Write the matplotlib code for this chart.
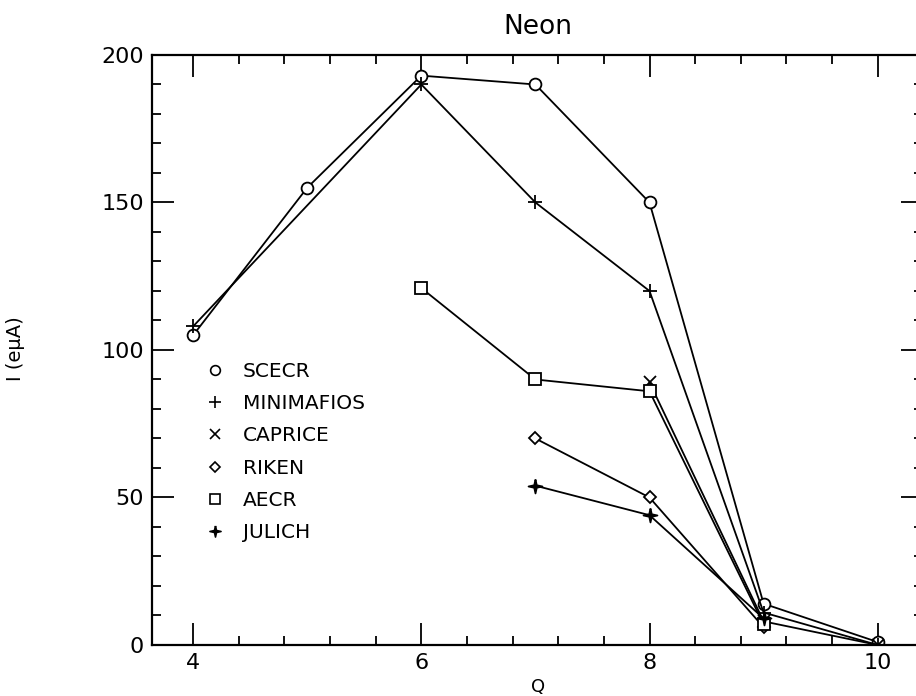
import numpy as np
import matplotlib
matplotlib.use("Agg")
import matplotlib.pyplot as plt
from matplotlib.lines import Line2D
from matplotlib.path import Path
from matplotlib.ticker import MultipleLocator

# data (Q, current in e-microA)
scecr_q = [4, 5, 6, 7, 8, 9, 10]
scecr_i = [105, 155, 193, 190, 150, 14, 1]
minimafios_q = [4, 6, 7, 8, 9, 10]
minimafios_i = [108, 190, 150, 120, 11, 0]
caprice_q = [8, 9, 10]
caprice_i = [89, 8, 0]
riken_q = [7, 8, 9]
riken_i = [70, 50, 6]
aecr_q = [6, 7, 8, 9]
aecr_i = [121, 90, 86, 7]
julich_q = [7, 8, 9]
julich_i = [54, 44, 9]

# four pointed star for JULICH
star = Path([(0, 1), (0.18, 0.18), (1, 0), (0.18, -0.18), (0, -1),
             (-0.18, -0.18), (-1, 0), (-0.18, 0.18), (0, 1)])

series = [
    ("SCECR", scecr_q, scecr_i, dict(marker="o", ms=8.5, mfc="white"), 7),
    ("MINIMAFIOS", minimafios_q, minimafios_i, dict(marker="+", ms=10), 8),
    ("CAPRICE", caprice_q, caprice_i, dict(marker="x", ms=8.5), 7),
    ("RIKEN", riken_q, riken_i, dict(marker="D", ms=6, mfc="white"), 5),
    ("AECR", aecr_q, aecr_i, dict(marker="s", ms=8, mfc="white"), 6.5),
    ("JULICH", julich_q, julich_i, dict(marker=star, ms=10, mfc="black"), 8),
]

plt.rcParams['font.family'] = ['DejaVu Sans']
fig = plt.figure(figsize=(9.16, 6.96), dpi=100)
ax = fig.add_axes([0.166, 0.0733, 0.842, 0.8477])

handles = []
for name, q, cur, st, leg_ms in series:
    ax.plot(q, cur, color="black", lw=1.3, mec="black", mew=1.3, **st)
    st = dict(st, ms=leg_ms)
    handles.append(Line2D([], [], ls="none", color="black", mec="black",
                          mew=1.2, label=name, **st))

ax.set_xlim(3.64, 10.40)
ax.set_ylim(0, 200)
ax.xaxis.set_major_locator(MultipleLocator(2))
ax.xaxis.set_minor_locator(MultipleLocator(0.4))
ax.yaxis.set_major_locator(MultipleLocator(50))
ax.yaxis.set_minor_locator(MultipleLocator(10))
ax.tick_params(which="both", direction="in", top=True, right=True, width=1.3)
ax.tick_params(which="major", length=16, labelsize=16)
ax.tick_params(axis="x", which="major", pad=6)
ax.tick_params(axis="y", which="major", pad=6)
ax.tick_params(which="minor", length=6.5)
for s in ax.spines.values():
    s.set_linewidth(1.6)

ax.set_title("Neon", fontsize=19, pad=15)
ax.set_xlabel("Q", fontsize=13)
ax.xaxis.set_label_coords(0.5, -0.056)
ax.set_ylabel("I (e\u03bcA)", fontsize=14)
ax.yaxis.set_label_coords(-0.165, 0.503)

ax.legend(handles=handles, loc="upper left", bbox_to_anchor=(0.068, 0.48),
          frameon=False, fontsize=14.5, handlelength=1.0, handletextpad=0.9,
          labelspacing=0.66, borderpad=0, borderaxespad=0)

fig.savefig("out.png", dpi=100)
